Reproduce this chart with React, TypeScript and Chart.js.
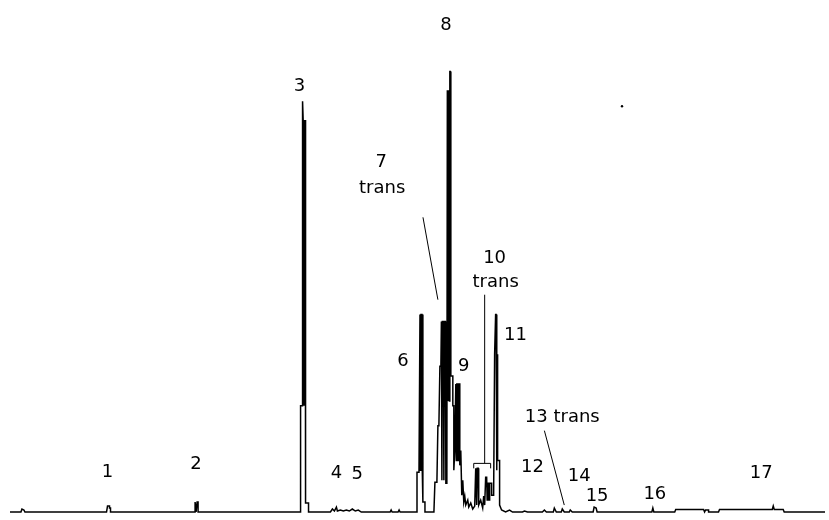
import React, { useEffect, useRef } from "react";
import { Chart, registerables } from "chart.js";

Chart.register(...registerables);

// Chromatogram trace: retention time (min) and detector signal (arbitrary units)
const retentionTime = [
  0, 0.55, 0.6, 0.7, 0.75, 4.85, 4.9, 5.0, 5.0, 5.05, 5.05, 9.3, 9.3, 9.35, 9.4, 9.45, 9.45,
  14.6, 14.6, 14.7, 14.7, 14.73, 14.75, 14.775, 14.8, 14.815, 14.835, 14.85, 14.85, 15.0, 15.0,
  16.1, 16.2, 16.3, 16.4, 16.45, 16.6, 16.75, 16.9, 17.05, 17.2, 17.35, 17.5, 17.65,
  19.1, 19.15, 19.2, 19.5, 19.55, 19.6,
  20.45, 20.45, 20.55, 20.6, 20.625, 20.65, 20.7, 20.715, 20.735, 20.75, 20.75, 20.85, 20.85,
  21.3, 21.35, 21.45, 21.5, 21.55, 21.6, 21.65, 21.675, 21.7, 21.725, 21.775, 21.8, 21.825, 21.875, 21.9,
  21.95, 21.975, 22.0, 22.025, 22.05, 22.075, 22.1, 22.125, 22.15, 22.25, 22.25, 22.3, 22.3,
  22.35, 22.4, 22.425, 22.45, 22.5, 22.525, 22.55, 22.6, 22.6, 22.65, 22.7, 22.75, 22.8, 22.85, 22.9,
  23.0, 23.05, 23.15, 23.25, 23.35, 23.4, 23.45, 23.475, 23.525, 23.55, 23.65, 23.75, 23.8, 23.85,
  23.9, 23.95, 23.975, 24.0, 24.05, 24.075, 24.1, 24.2, 24.2, 24.3, 24.35, 24.4, 24.425, 24.45,
  24.465, 24.485, 24.5, 24.6, 24.6, 24.7, 24.9, 25.1, 25.25, 25.75, 25.85, 26.0, 26.75, 26.85, 26.95,
  27.3, 27.35, 27.45, 27.7, 27.75, 27.85, 28.1, 28.15, 28.25, 29.3, 29.35, 29.45, 29.5,
  32.25, 32.3, 32.35, 33.4, 33.45, 34.85, 34.9, 34.95, 35.1, 35.1, 35.6, 35.65, 38.3, 38.35, 38.4,
  38.85, 38.9, 40.95,
];
const signal = [
  0, 0, 0.75, 0.5, 0, 0, 1.5, 1.5, 1.0, 1.0, 0, 0, 2.5, 0, 2.5, 2.5, 0,
  0, 26.75, 26.75, 103.5, 98.75, 26.75, 98.75, 98.75, 26.75, 98.75, 98.75, 2.25, 2.25, 0,
  0, 0.75, 0.25, 1.25, 0.25, 0.5, 0.25, 0.5, 0.25, 0.75, 0.25, 0.5, 0,
  0, 0.5, 0, 0, 0.5, 0,
  0, 10, 10, 49.75, 10.5, 49.75, 49.75, 10.5, 49.75, 49.75, 2.5, 2.5, 0,
  0, 7.5, 7.5, 21.75, 21.75, 36.75, 36.75, 48, 8, 48, 48, 8, 48, 48, 7.25,
  7.25, 106.25, 28, 106.25, 106.25, 28, 111, 111, 34.25, 34.25, 26.75, 26.75, 10.5,
  15.5, 32.25, 13, 32.25, 32.25, 13, 32.25, 32.25, 11.75, 15.5, 4.25, 8, 2.5, 4, 1.75,
  3, 1.25, 2.25, 0.75, 1.5, 11, 1.75, 11, 11, 1.75, 3, 1, 4, 1.75,
  8.75, 8.75, 3, 7.25, 7.25, 3, 7.25, 7.25, 4.25, 4.25, 39.75, 49.75, 49.75, 39.75,
  10.5, 39.75, 13, 13, 1.75, 0.5, 0, 0.5, 0, 0, 0.25, 0, 0, 0.5, 0,
  0, 1, 0, 0, 0.75, 0, 0, 0.5, 0, 0, 1.25, 1, 0,
  0, 1, 0, 0, 0.625, 0.625, 0, 0.5, 0.5, 0, 0, 0.625, 0.625, 1.5, 0.625,
  0.625, 0, 0,
];

// Peak labels
const peakLabels = ["1", "2", "3", "4", "5", "6", "7", "trans", "8", "9", "10", "trans", "11", "12", "13 trans", "14", "15", "16", "17"];
const labelTime = [4.9, 9.35, 14.55, 16.4, 17.45, 19.75, 18.65, 18.7, 21.9, 22.8, 24.35, 24.4, 25.4, 26.25, 27.75, 28.6, 29.5, 32.4, 37.75];
const labelSignal = [10, 12, 107.25, 9.75, 9.5, 38, 88, 81.5, 122.75, 36.75, 64, 57.75, 44.5, 11.25, 23.75, 9, 4, 4.5, 9.75];

// Leader lines (each a polyline)
const leaderTimes = [
  [20.75, 21.5],
  [23.85, 23.85],
  [23.3, 23.3, 24.15, 24.15],
  [26.85, 27.85],
];
const leaderSignals = [
  [74.25, 53.5],
  [54.75, 12.25],
  [11, 12.25, 12.25, 11],
  [20.5, 1.75],
];

// Stray mark
const strayTime = [30.75];
const straySignal = [102.25];

export default function App() {
  const ref = useRef<HTMLCanvasElement>(null);

  useEffect(() => {
    const annotate = {
      id: "annotate",
      afterDatasetsDraw(chart: any) {
        const { ctx, scales } = chart;
        const xs = scales.x;
        const ys = scales.y;
        ctx.save();
        ctx.strokeStyle = "#000";
        ctx.lineWidth = 1;
        leaderTimes.forEach((ts, i) => {
          ctx.beginPath();
          ts.forEach((t, j) => {
            const px = xs.getPixelForValue(t);
            const py = ys.getPixelForValue(leaderSignals[i][j]);
            if (j === 0) ctx.moveTo(px, py);
            else ctx.lineTo(px, py);
          });
          ctx.stroke();
        });
        ctx.fillStyle = "#000";
        ctx.font = '18px "DejaVu Sans"';
        ctx.textAlign = "center";
        ctx.textBaseline = "middle";
        peakLabels.forEach((lab, i) => {
          ctx.fillText(lab, xs.getPixelForValue(labelTime[i]), ys.getPixelForValue(labelSignal[i]));
        });
        ctx.restore();
      },
    };

    const chart = new Chart(ref.current as HTMLCanvasElement, {
      type: "line",
      data: {
        datasets: [
          {
            data: retentionTime.map((t, i) => ({ x: t, y: signal[i] })),
            borderColor: "#000",
            backgroundColor: "#000",
            borderWidth: 1.5,
            pointRadius: 0,
            tension: 0,
            fill: false,
            clip: false as any,
          },
          {
            data: strayTime.map((t, i) => ({ x: t, y: straySignal[i] })),
            showLine: false,
            pointRadius: 1.2,
            pointBackgroundColor: "#000",
            pointBorderWidth: 0,
          },
        ],
      },
      options: {
        responsive: false,
        maintainAspectRatio: false,
        animation: false,
        devicePixelRatio: 1,
        layout: { padding: { left: 10, right: 0, top: 0, bottom: 8 } },
        scales: {
          x: { type: "linear", min: 0, max: 40.95, display: false },
          y: { type: "linear", min: 0, max: 128, display: false },
        },
        plugins: {
          legend: { display: false },
          tooltip: { enabled: false },
        },
      },
      plugins: [annotate],
    });
    return () => chart.destroy();
  }, []);

  return (
    <div style={{ position: "fixed", left: 0, top: 0, width: 829, height: 520, background: "#fff" }}>
      <canvas ref={ref} width={829} height={520} style={{ display: "block", width: 829, height: 520 }} />
    </div>
  );
}
